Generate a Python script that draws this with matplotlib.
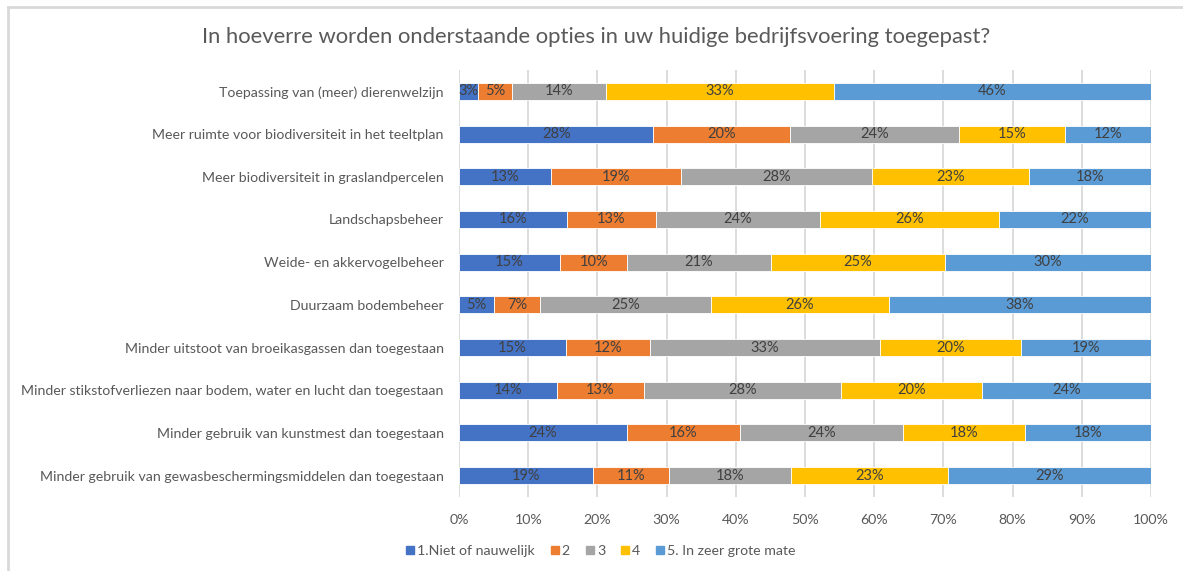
import matplotlib
matplotlib.use("Agg")
import matplotlib.pyplot as plt
from matplotlib.lines import Line2D
import numpy as np

plt.rcParams['font.family'] = ['Lato', 'DejaVu Sans']

categories = [
    "Toepassing van (meer) dierenwelzijn",
    "Meer ruimte voor biodiversiteit in het teeltplan",
    "Meer biodiversiteit in graslandpercelen",
    "Landschapsbeheer",
    "Weide- en akkervogelbeheer",
    "Duurzaam bodembeheer",
    "Minder uitstoot van broeikasgassen dan toegestaan",
    "Minder stikstofverliezen naar bodem, water en lucht dan toegestaan",
    "Minder gebruik van kunstmest dan toegestaan",
    "Minder gebruik van gewasbeschermingsmiddelen dan toegestaan",
]
series_names = ["1.Niet of nauwelijk", "2", "3", "4", "5. In zeer grote mate"]

s1 = [2.7, 28.1, 13.3, 15.6, 14.6, 5.1, 15.4, 14.1, 24.3, 19.4]
s2 = [5.0, 19.8, 18.8, 12.8, 9.7, 6.6, 12.2, 12.7, 16.3, 10.9]
s3 = [13.6, 24.3, 27.6, 23.7, 20.8, 24.7, 33.2, 28.4, 23.6, 17.7]
s4 = [32.9, 15.4, 22.6, 25.9, 25.1, 25.7, 20.4, 20.4, 17.6, 22.7]
s5 = [45.8, 12.4, 17.7, 22.0, 29.8, 37.9, 18.8, 24.4, 18.2, 29.3]
series = [s1, s2, s3, s4, s5]
colors = ["#4472C4", "#ED7D31", "#A5A5A5", "#FFC000", "#5B9BD5"]

W, H = 1183, 571
fig = plt.figure(figsize=(W / 100, H / 100), dpi=100)
ax = fig.add_axes([459 / W, 1 - 497 / H, (1151 - 459) / W, (497 - 70) / H])

y = np.arange(len(categories))
left = np.zeros(len(categories))
for vals, col, name in zip(series, colors, series_names):
    v = np.array(vals) / 100.0
    ax.barh(y, v, left=left, height=0.40, color=col, edgecolor='white',
            linewidth=0.6, label=name, zorder=3)
    for yi, li, vi in zip(y, left, v):
        ax.text(li + vi / 2, yi, f"{round(vi * 100):.0f}%", ha='center', va='center',
                fontsize=10.5, color='#404040', zorder=4)
    left += v

ax.set_xlim(0, 1)
ax.set_ylim(len(categories) - 0.5, -0.5)
ax.set_xticks(np.arange(0, 1.01, 0.1))
ax.set_xticklabels([f"{int(t)}%" for t in range(0, 101, 10)])
ax.set_yticks(y)
ax.set_yticklabels(categories)
ax.tick_params(axis='both', length=0, labelsize=10.2, labelcolor='#595959')
ax.tick_params(axis='x', pad=12)
ax.tick_params(axis='y', pad=11)
ax.grid(axis='x', color='#D9D9D9', linewidth=1.3, zorder=0)
for s in ax.spines.values():
    s.set_visible(False)

fig.text(596 / W, 1 - 37 / H,
         "In hoeverre worden onderstaande opties in uw huidige bedrijfsvoering toegepast?",
         ha='center', va='center', fontsize=15.8, color='#595959')

handles = [Line2D([0], [0], marker='s', linestyle='none', markersize=6,
                  markerfacecolor=c, markeredgecolor=c) for c in colors]
fig.legend(handles, series_names, loc='center', bbox_to_anchor=(600 / W, 1 - 551 / H),
           ncol=5, frameon=False, fontsize=10.2, handletextpad=0.1, columnspacing=1.0,
           labelcolor='#595959', handlelength=0.8)

# frame lines (top and left)
fig.add_artist(Line2D([8 / W, 1], [1 - 7 / H, 1 - 7 / H], color='#D9D9D9', linewidth=2,
                      transform=fig.transFigure))
fig.add_artist(Line2D([8 / W, 8 / W], [0, 1 - 7 / H], color='#D9D9D9', linewidth=2,
                      transform=fig.transFigure))

fig.savefig("out.png", dpi=100)
